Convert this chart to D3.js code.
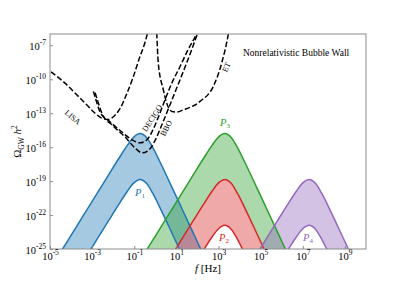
<!DOCTYPE html>
<html>
<head>
<meta charset="utf-8">
<script src="https://cdn.jsdelivr.net/npm/d3@7"></script>
<style>
  body { margin: 0; background: #fff; }
  text { font-family: "Liberation Serif", "DejaVu Serif", serif; }
</style>
</head>
<body>
<script>
// values are log10 of f [Hz] and of Omega_GW h^2
var fP1 = [-4.72,-3.72,-3.22,-2.72,-2.22,-1.72,-1.32,-1.02,-0.72,-0.42,-0.12,0.28,0.78,1.28,1.78,2.28];
var fP23 = [-0.70,0.30,0.80,1.30,1.80,2.30,2.70,3.00,3.30,3.60,3.90,4.30,4.80,5.30,5.80,6.30];
var fP4 = [3.30,4.30,4.80,5.30,5.80,6.30,6.70,7.00,7.30,7.60,7.90,8.30,8.80,9.30,9.80,10.30];

var highBand = [-25.95,-22.95,-21.45,-19.95,-18.45,-16.96,-15.82,-15.11,-14.8,-15.15,-16.04,-17.53,-19.51,-21.51,-23.51,-25.51];
var midBand  = [-30.0,-27.0,-25.5,-24.0,-22.5,-21.01,-19.87,-19.16,-18.85,-19.2,-20.09,-21.58,-23.56,-25.56,-27.56,-29.56];
var lowBand  = [-34.05,-31.05,-29.55,-28.05,-26.55,-25.06,-23.92,-23.21,-22.9,-23.25,-24.14,-25.63,-27.61,-29.61,-31.61,-33.61];

var lisaF = [-4.95,-4.29,-3.73,-3.26,-2.86,-2.55,-2.23,-1.95,-1.65,-1.36,-1.05,-0.75,-0.50,-0.30];
var lisaO = [-9.35,-10.34,-11.37,-12.26,-13.0,-13.43,-13.55,-13.25,-12.5,-11.3,-9.8,-8.1,-6.8,-5.4];
var decigoF = [-2.94,-2.82,-2.63,-2.15,-1.54,-1.11,-0.73,-0.40,-0.16,0.13,0.46,0.79,1.17,1.55,1.98,2.12];
var decigoO = [-11.08,-11.81,-12.88,-13.76,-14.73,-15.35,-15.62,-15.35,-14.65,-13.41,-11.81,-10.31,-8.89,-7.39,-5.88,-5.18];
var bboF = [-2.86,-2.72,-2.53,-2.06,-1.44,-0.97,-0.63,-0.30,-0.02,0.27,0.60,0.98,1.36,1.69,2.02,2.17];
var bboO = [-11.19,-12.0,-13.05,-14.03,-15.09,-16.06,-16.5,-16.24,-15.44,-14.2,-12.70,-10.93,-9.16,-7.57,-5.88,-5.18];
var etF = [0.05,0.06,0.14,0.38,0.54,0.79,1.0,1.33,2.12,2.75,3.15,3.46,3.54];
var etO = [-5.2,-5.62,-8.57,-10.93,-12.11,-12.85,-12.9,-12.70,-11.96,-10.64,-8.57,-6.06,-5.18];

var xTicks = [-5,-3,-1,1,3,5,7,9];
var yTicks = [-25,-22,-19,-16,-13,-10,-7];

var W = 407, H = 285;
var L = 50, R = 366, T = 34, B = 249;

var svg = d3.select('body').append('svg').attr('width', W).attr('height', H);

var x = d3.scaleLog().domain([1e-5, 1e10]).range([L, R]);
var y = d3.scaleLog().domain([1e-25, 1e-6]).range([B, T]);

svg.append('clipPath').attr('id', 'plotclip')
   .append('rect').attr('x', L).attr('y', T).attr('width', R - L).attr('height', B - T);

var plot = svg.append('g').attr('clip-path', 'url(#plotclip)');

function pts(fs, os) {
    return fs.map(function(f, i) { return [Math.pow(10, f), Math.pow(10, os[i])]; });
}
function band(fs, up, lo) {
    return fs.map(function(f, i) { return [Math.pow(10, f), Math.pow(10, up[i]), Math.pow(10, lo[i])]; });
}

var line = d3.line()
    .x(function(d) { return x(d[0]); })
    .y(function(d) { return y(d[1]); })
    .curve(d3.curveMonotoneX);

var area = d3.area()
    .x(function(d) { return x(d[0]); })
    .y1(function(d) { return y(d[1]); })
    .y0(function(d) { return y(d[2]); })
    .curve(d3.curveMonotoneX);

var bands = [
    { data: band(fP1, highBand, midBand), color: '#1f77b4' },
    { data: band(fP23, highBand, midBand), color: '#2ca02c' },
    { data: band(fP23, midBand, lowBand), color: '#d62728' },
    { data: band(fP4, midBand, lowBand), color: '#9467bd' }
];

bands.forEach(function(b) {
    plot.append('path').attr('d', area(b.data))
        .attr('fill', b.color).attr('fill-opacity', 0.4).attr('stroke', 'none');
});

var edges = [
    { data: pts(fP1, highBand), color: '#1f77b4' },
    { data: pts(fP1, midBand), color: '#1f77b4' },
    { data: pts(fP23, highBand), color: '#2ca02c' },
    { data: pts(fP23, midBand), color: '#d62728' },
    { data: pts(fP23, lowBand), color: '#d62728' },
    { data: pts(fP4, midBand), color: '#9467bd' },
    { data: pts(fP4, lowBand), color: '#9467bd' }
];
edges.forEach(function(e) {
    plot.append('path').attr('d', line(e.data))
        .attr('fill', 'none').attr('stroke', e.color).attr('stroke-width', 1.5);
});

var detectors = [pts(lisaF, lisaO), pts(decigoF, decigoO), pts(bboF, bboO), pts(etF, etO)];
detectors.forEach(function(d) {
    plot.append('path').attr('d', line(d))
        .attr('fill', 'none').attr('stroke', '#000').attr('stroke-width', 1.5)
        .attr('stroke-dasharray', '5.5,2.4');
});

// frame
svg.append('rect').attr('x', L).attr('y', T).attr('width', R - L).attr('height', B - T)
   .attr('fill', 'none').attr('stroke', '#8c8c8c').attr('stroke-width', 1);

// axes
var xAxis = d3.axisBottom(x).tickValues(xTicks.map(function(e) { return Math.pow(10, e); }))
    .tickSize(-3).tickPadding(6).tickFormat('');
var gx = svg.append('g').attr('transform', 'translate(0,' + B + ')').call(xAxis);
var yAxis = d3.axisLeft(y).tickValues(yTicks.map(function(e) { return Math.pow(10, e); }))
    .tickSize(-3).tickPadding(4).tickFormat('');
var gy = svg.append('g').attr('transform', 'translate(' + L + ',0)').call(yAxis);

[gx, gy].forEach(function(g) {
    g.select('.domain').remove();
    g.selectAll('.tick line').attr('stroke', '#8c8c8c');
});

function powLabel(sel, e) {
    sel.append('tspan').attr('font-size', 10.5).text('10');
    sel.append('tspan').attr('font-size', 7.5).attr('dy', -4.5).text(e);
}

gx.selectAll('.tick').each(function(d, i) {
    var t = d3.select(this).select('text').text(null)
        .attr('y', 10.5).attr('dy', 0).attr('fill', '#000');
    powLabel(t, xTicks[i]);
});
gy.selectAll('.tick').each(function(d, i) {
    var t = d3.select(this).select('text').text(null)
        .attr('x', -4).attr('dy', 4).attr('fill', '#000');
    powLabel(t, yTicks[i]);
});

// axis titles
var xl = svg.append('text').attr('x', (L + R) / 2).attr('y', 272)
    .attr('text-anchor', 'middle').attr('font-size', 11);
xl.append('tspan').attr('font-style', 'italic').text('f');
xl.append('tspan').text(' [Hz]');

var yl = svg.append('text').attr('transform', 'translate(21,' + ((T + B) / 2) + ') rotate(-90)')
    .attr('text-anchor', 'middle').attr('font-size', 11);
yl.append('tspan').text('Ω');
yl.append('tspan').attr('font-size', 7.5).attr('dy', 2.5).text('GW');
yl.append('tspan').attr('font-style', 'italic').attr('dy', -2.5).text(' h');
yl.append('tspan').attr('font-size', 7.5).attr('dy', -4.5).text('2');

// title in plot
svg.append('text').attr('x', 243).attr('y', 56).attr('font-size', 9.5)
    .text('Nonrelativistic Bubble Wall');

// detector labels
var detLabels = [
    { t: 'LISA', x: 73, y: 117, a: 40 },
    { t: 'DECIGO', x: 152, y: 118, a: -57 },
    { t: 'BBO', x: 166, y: 128, a: -62 },
    { t: 'ET', x: 226, y: 67, a: -65 }
];
detLabels.forEach(function(d) {
    svg.append('text').attr('transform', 'translate(' + d.x + ',' + d.y + ') rotate(' + d.a + ')')
        .attr('text-anchor', 'middle').attr('dy', 3).attr('font-size', 8).text(d.t);
});

// band labels
var pLabels = [
    { n: '1', x: 140, y: 196, c: '#1f77b4' },
    { n: '3', x: 225, y: 126, c: '#2ca02c' },
    { n: '2', x: 224, y: 241, c: '#d62728' },
    { n: '4', x: 308, y: 241, c: '#9467bd' }
];
pLabels.forEach(function(p) {
    var t = svg.append('text').attr('x', p.x).attr('y', p.y)
        .attr('text-anchor', 'middle').attr('font-size', 10.5).attr('fill', p.c);
    t.append('tspan').attr('font-style', 'italic').text('P');
    t.append('tspan').attr('font-size', 7).attr('dy', 2).text(p.n);
});
</script>
</body>
</html>
